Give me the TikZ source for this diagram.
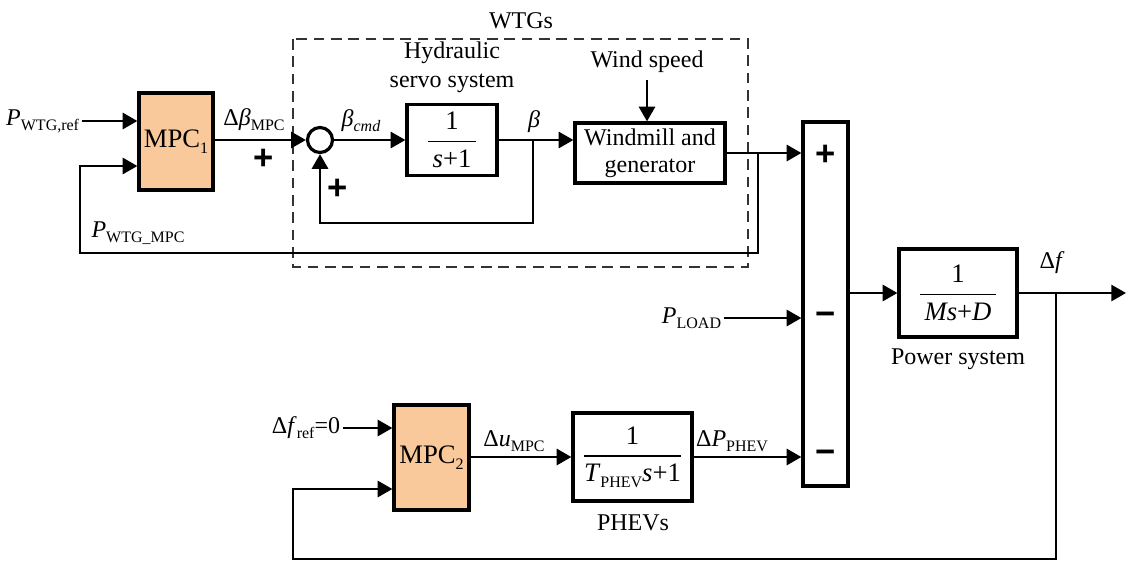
\documentclass[tikz,border=0pt]{standalone}
\usepackage{amsmath}
\usepackage{fontspec}
\setmainfont{Liberation Serif}
\newfontfamily\signfont{Liberation Sans}
\usetikzlibrary{arrows.meta}

\definecolor{mpcorange}{RGB}{250,201,155}
\newcommand{\lo}[1]{\raisebox{-0.45ex}{\fontsize{12}{12}\selectfont #1}}
\newcommand{\tf}[2]{$\genfrac{}{}{1.3pt}{0}{\mbox{#1}}{\mbox{#2}}$}

\begin{document}
\begin{tikzpicture}[
	    x=0.75pt, y=-0.75pt,
	    >={Triangle[length=11pt,width=12pt]},
	    font=\fontsize{18}{20}\selectfont,
	    blk/.style={draw, line width=2.4pt, inner sep=0pt, align=center},
	    mpc/.style={blk, fill=mpcorange, minimum width=55.5pt, font=\fontsize{20}{22}\selectfont},
	    frac/.style={blk, font=\fontsize{20}{22}\selectfont},
	    lbl/.style={inner sep=2pt, align=center},
	    sgn/.style={inner sep=0pt, font=\fontsize{26}{26}\signfont\bfseries},
	    arrow/.style={->, line width=2pt},
	    wtgbox/.style={draw=black!80, line width=1.6pt, dash pattern=on 8pt off 5pt}
	]
		\useasboundingbox (0,0) rectangle (1126,560);

		% wind turbine part
		\draw[wtgbox] (293,39) rectangle (748,267);
		\node[lbl] (wtgs) at (521,21) {WTGs};

		\node[mpc, minimum height=72.75pt] (mpc1) at (176,141.5) {MPC\lo{1}};
		\node[blk, circle, minimum size=18.75pt] (sum1) at (320,140) {};
		\node[frac, minimum width=67.5pt, minimum height=53.25pt] (servo) at (452,140)
			{\tf{\,1\,}{\,\textit{s}+1\,}};
		\node[blk, minimum width=112.5pt, minimum height=45pt] (wind) at (650,153)
			{Windmill and\\generator};

		\node[lbl, anchor=east] (pref) at (82,121) {\textit{P}\lo{WTG,ref}};
		\node[lbl] (pmpc) at (138,233) {\textit{P}\lo{WTG\_MPC}};
		\node[lbl] (dbeta) at (254,120) {Δ\textit{β}\lo{MPC}};
		\node[lbl] (bcmd) at (361,121) {\textit{β}\lo{\textit{cmd}}};
		\node[lbl] (beta) at (534,122) {\textit{β}};
		\node[lbl, font=\fontsize{18}{22}\selectfont] (hyd) at (452,67) {Hydraulic\\servo system};
		\node[lbl] (wspd) at (647,62) {Wind speed};
		\node[sgn] (p1) at (264,159) {+};
		\node[sgn] (p2) at (338,189) {+};

		% summation and power system
		\node[blk, minimum width=33.75pt, minimum height=273pt] (sumblk) at (825.5,304) {};
		\node[sgn] (s1) at (826,155) {+};
		\node[sgn] (s2) at (826,319) {−};
		\node[sgn] (s3) at (826,457) {−};
		\node[lbl, anchor=east] (pload) at (724,318) {\textit{P}\lo{LOAD}};

		\node[frac, minimum width=88.5pt, minimum height=66pt] (power) at (958,293)
			{\tf{\,1\,}{\,\textit{Ms}+\textit{D}\,}};
		\node[lbl] (pstxt) at (958,359) {Power system};
		\node[lbl] (df) at (1052,263) {Δ\textit{f}};

		% PHEV part
		\node[mpc, minimum height=78.75pt, minimum width=56.25pt] (mpc2) at (431.5,457.5) {MPC\lo{2}};
		\node[frac, minimum width=89.25pt, minimum height=66pt] (phev) at (632.5,457)
			{\tf{1}{\textit{T}\lo{PHEV}\textit{s}+1}};
		\node[lbl] (phevs) at (633,523) {PHEVs};
		\node[lbl, anchor=east] (dfref) at (343,428) {Δ\textit{f}\lo{ref}=0};
		\node[lbl] (du) at (514,441) {Δ\textit{u}\lo{MPC}};
		\node[lbl] (dp) at (732,441) {Δ\textit{P}\lo{PHEV}};

		\coordinate (fbx) at (758,253);
		\coordinate (fbin) at (80,166);
		\coordinate (sbr) at (533,223);
		\coordinate (fout) at (1126,293);
		\coordinate (fbr) at (1056,559);
		\coordinate (fbl) at (293,559);
		\coordinate (m2in) at (293,489);

		\draw[arrow] (pref.east) -- (pref.east -| mpc1.west);
		\draw[arrow] (mpc1.east |- sum1.west) -- (sum1.west);
		\draw[arrow] (sum1.east) -- (servo.west);
		\draw[arrow] (servo.east) -- (servo.east -| wind.west);
		\draw[arrow] (sbr |- servo.east) -- (sbr) -| (sum1.south);
		\draw[arrow] ([yshift=-3pt]wspd.south) -- (wspd.south |- wind.north);

		\draw[arrow] (wind.east) -- (wind.east -| sumblk.west);
		\draw[arrow] (fbx |- wind.east) -- (fbx) -| (fbin) -- (fbin -| mpc1.west);

		\draw[arrow] (pload.east) -- (pload.east -| sumblk.west);
		\draw[arrow] (phev.east) -- (phev.east -| sumblk.west);
		\draw[arrow] (sumblk.east |- power.west) -- (power.west);
		\draw[arrow] (power.east) -- (fout);

		\draw[arrow] (dfref.east) -- (dfref.east -| mpc2.west);
		\draw[arrow] (mpc2.east |- phev.west) -- (phev.west);
		\draw[arrow] (fbr |- power.east) -- (fbr) -- (fbl) -- (m2in) -- (m2in -| mpc2.west);
	\end{tikzpicture}
\end{document}
